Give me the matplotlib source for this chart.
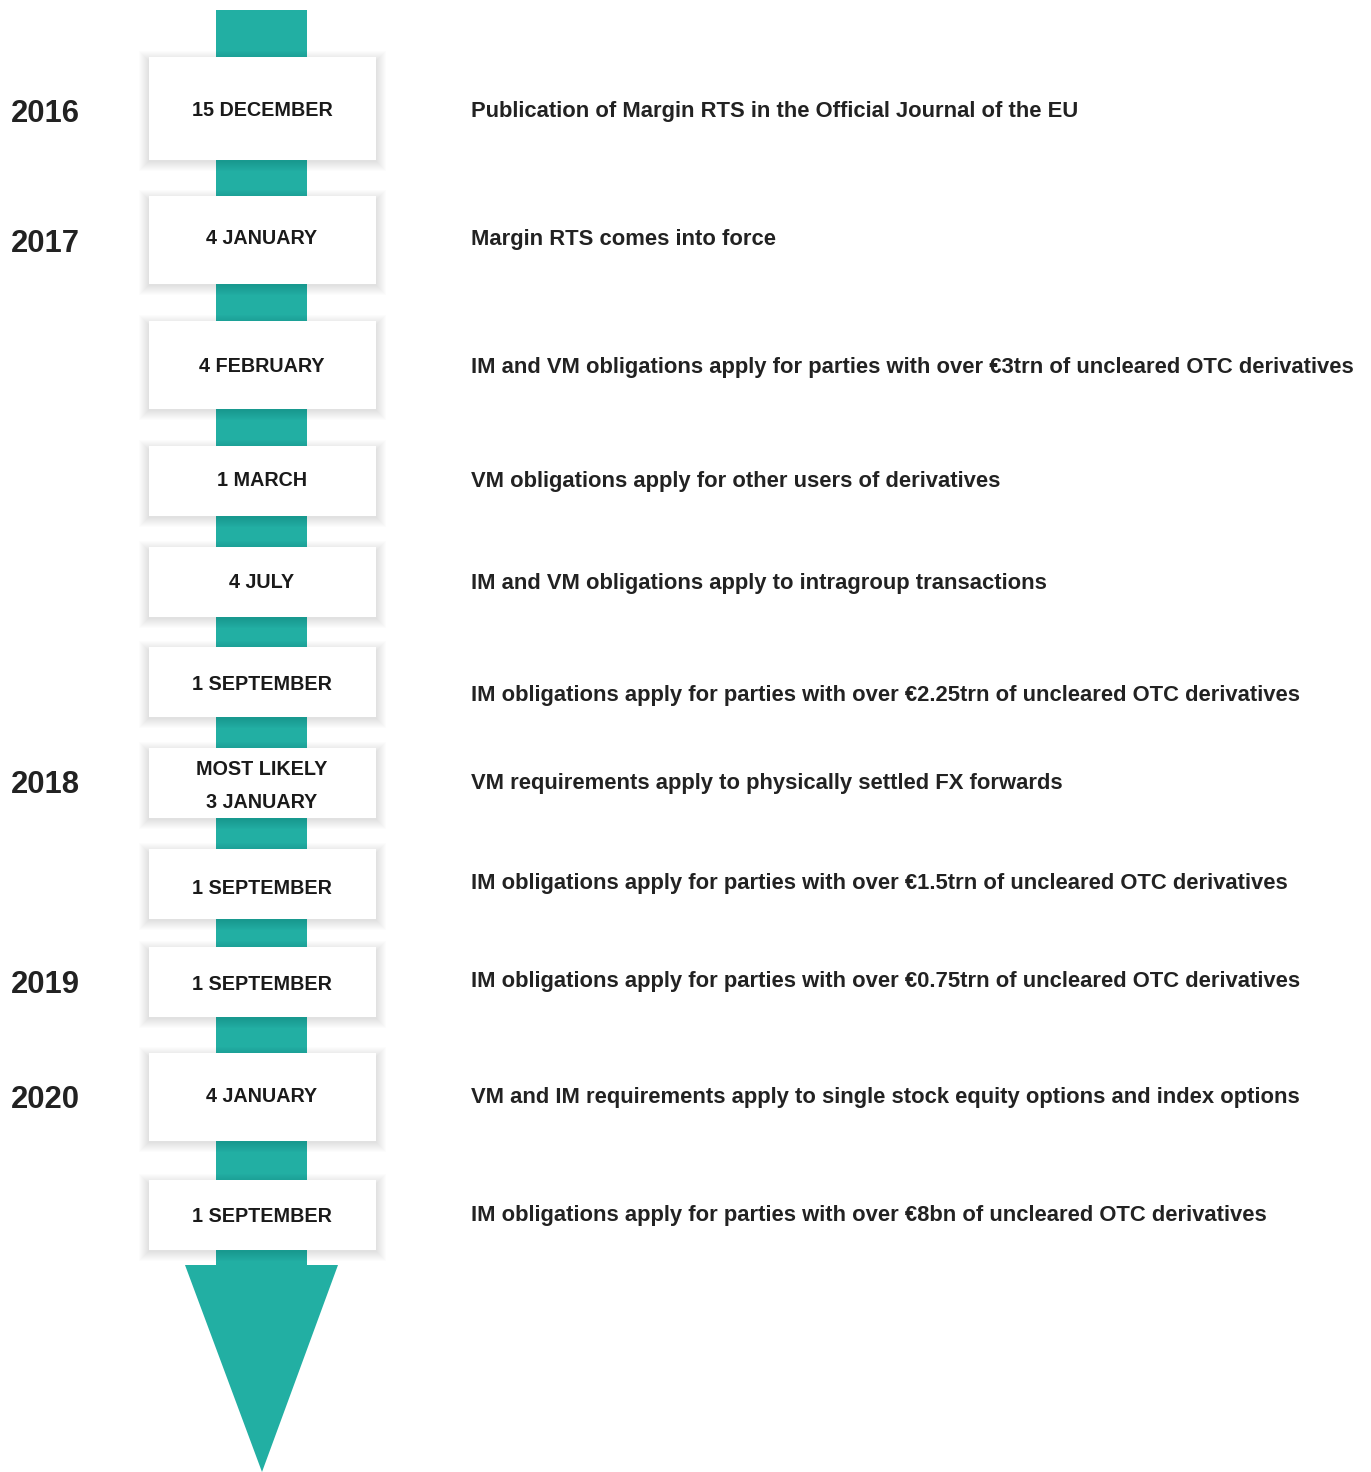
import matplotlib
matplotlib.use("Agg")
import matplotlib.pyplot as plt
from matplotlib.patches import Rectangle, Polygon

TEAL = "#22AFA3"
INK = "#1A1A1A"

# timeline entries (top/bottom of each date box in pixel rows)
box_top = [57, 196, 321, 446, 547, 647, 748, 849, 947, 1053, 1180]
box_bottom = [160, 284, 409, 516, 617, 717, 818, 919, 1017, 1141, 1250]
box_labels = ["15 DECEMBER", "4 JANUARY", "4 FEBRUARY", "1 MARCH", "4 JULY",
              "1 SEPTEMBER", "MOST LIKELY\n3 JANUARY", "1 SEPTEMBER",
              "1 SEPTEMBER", "4 JANUARY", "1 SEPTEMBER"]
label_y = [108, 236, 365, 479, 580, 683, 784, 886, 983, 1094, 1214]
descriptions = [
    "Publication of Margin RTS in the Official Journal of the EU",
    "Margin RTS comes into force",
    "IM and VM obligations apply for parties with over €3trn of uncleared OTC derivatives",
    "VM obligations apply for other users of derivatives",
    "IM and VM obligations apply to intragroup transactions",
    "IM obligations apply for parties with over €2.25trn of uncleared OTC derivatives",
    "VM requirements apply to physically settled FX forwards",
    "IM obligations apply for parties with over €1.5trn of uncleared OTC derivatives",
    "IM obligations apply for parties with over €0.75trn of uncleared OTC derivatives",
    "VM and IM requirements apply to single stock equity options and index options",
    "IM obligations apply for parties with over €8bn of uncleared OTC derivatives",
]
desc_y = [109, 237, 366, 480, 581, 694, 782, 881, 979, 1095, 1214]
years = ["2016", "2017", "2018", "2019", "2020"]
year_y = [112, 242, 783, 983, 1098]

W, H = 1371, 1472
fig = plt.figure(figsize=(W / 100, H / 100), dpi=100)
ax = fig.add_axes([0, 0, 1, 1])
ax.set_xlim(0, W)
ax.set_ylim(H, 0)
ax.axis("off")

FONT = ["Liberation Sans", "DejaVu Sans"]

# stem and arrow head
ax.add_patch(Rectangle((216, 10), 91, 1256, color=TEAL, lw=0, zorder=1))
ax.add_patch(Polygon([(185, 1265), (338, 1265), (262, 1472)], closed=True,
                     color=TEAL, lw=0, zorder=1))

bx0, bx1 = 149, 376
for top, bot, lab, ly in zip(box_top, box_bottom, box_labels, label_y):
    # soft shadow, a little heavier below
    for k in range(10, 0, -1):
        ax.add_patch(Rectangle((bx0 - k, top - k + 4), bx1 - bx0 + 2 * k, bot - top + 2 * k - 3,
                               color="#000000", alpha=0.012, lw=0, zorder=2))
    ax.add_patch(Rectangle((bx0, top), bx1 - bx0, bot - top, facecolor="white",
                           edgecolor="none", zorder=3))
    ax.text(262, ly + 2, lab, ha="center", va="center", fontsize=14.2, fontweight="bold",
            color=INK, family=FONT, linespacing=1.9, zorder=4)

for d, y in zip(descriptions, desc_y):
    ax.text(471, y + 2, d, ha="left", va="center", fontsize=15.8, fontweight="bold",
            color="#222222", family=FONT)

for yr, y in zip(years, year_y):
    ax.text(11, y + 2, yr, ha="left", va="center", fontsize=22.3, fontweight="bold",
            color="#222222", family=FONT)

fig.savefig("out.png", dpi=100, facecolor="white")
